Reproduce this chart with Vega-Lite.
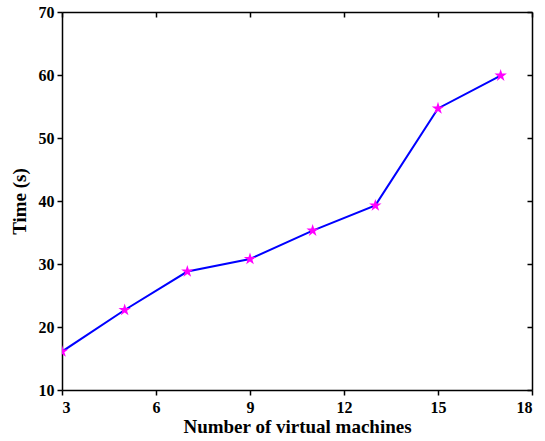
{
  "$schema": "https://vega.github.io/schema/vega-lite/v6.json",
  "width": 470,
  "height": 378,
  "autosize": {"type": "none"},
  "padding": {"left": 62, "top": 12, "right": 13, "bottom": 51},
  "background": "white",
  "data": {"values": [
    {"vm": 3, "time": 16.1},
    {"vm": 5, "time": 22.7},
    {"vm": 7, "time": 28.8},
    {"vm": 9, "time": 30.8},
    {"vm": 11, "time": 35.3},
    {"vm": 13, "time": 39.3},
    {"vm": 15, "time": 54.7},
    {"vm": 17, "time": 59.9}
  ]},
  "config": {
    "view": {"stroke": null},
    "axis": {
      "grid": false,
      "domainColor": "black",
      "domainWidth": 1.5,
      "tickColor": "black",
      "tickWidth": 1.5,
      "tickSize": 5,
      "labelFont": "Liberation Serif",
      "labelFontWeight": "bold",
      "labelFontSize": 16,
      "labelColor": "black",
      "titleFont": "Liberation Serif",
      "titleFontWeight": "bold",
      "titleFontSize": 19,
      "titleColor": "black"
    }
  },
  "resolve": {"axis": {"x": "independent", "y": "independent"}},
  "layer": [
    {
      "mark": {"type": "line", "color": "#0000FF", "strokeWidth": 2, "clip": true},
      "encoding": {
        "x": {"field": "vm", "type": "quantitative",
              "scale": {"domain": [3, 18], "nice": false, "zero": false},
              "axis": {"orient": "bottom", "values": [3, 6, 9, 12, 15, 18], "title": "Number of virtual machines", "labelPadding": 4, "titlePadding": 2}},
        "y": {"field": "time", "type": "quantitative",
              "scale": {"domain": [10, 70], "nice": false, "zero": false},
              "axis": {"orient": "left", "values": [10, 20, 30, 40, 50, 60, 70], "title": "Time (s)", "labelPadding": 3, "titlePadding": 9}}
      }
    },
    {
      "mark": {"type": "point", "filled": true, "color": "#FF00FF", "opacity": 1, "size": 170, "clip": true,
               "shape": "M0,-1L0.2245,-0.309L0.951,-0.309L0.363,0.118L0.588,0.809L0,0.382L-0.588,0.809L-0.363,0.118L-0.951,-0.309L-0.2245,-0.309Z"},
      "encoding": {
        "x": {"field": "vm", "type": "quantitative",
              "axis": {"orient": "top", "values": [3, 6, 9, 12, 15, 18], "labels": false, "title": null, "tickSize": -5}},
        "y": {"field": "time", "type": "quantitative",
              "axis": {"orient": "right", "values": [10, 20, 30, 40, 50, 60, 70], "labels": false, "title": null, "tickSize": -5}}
      }
    }
  ]
}
